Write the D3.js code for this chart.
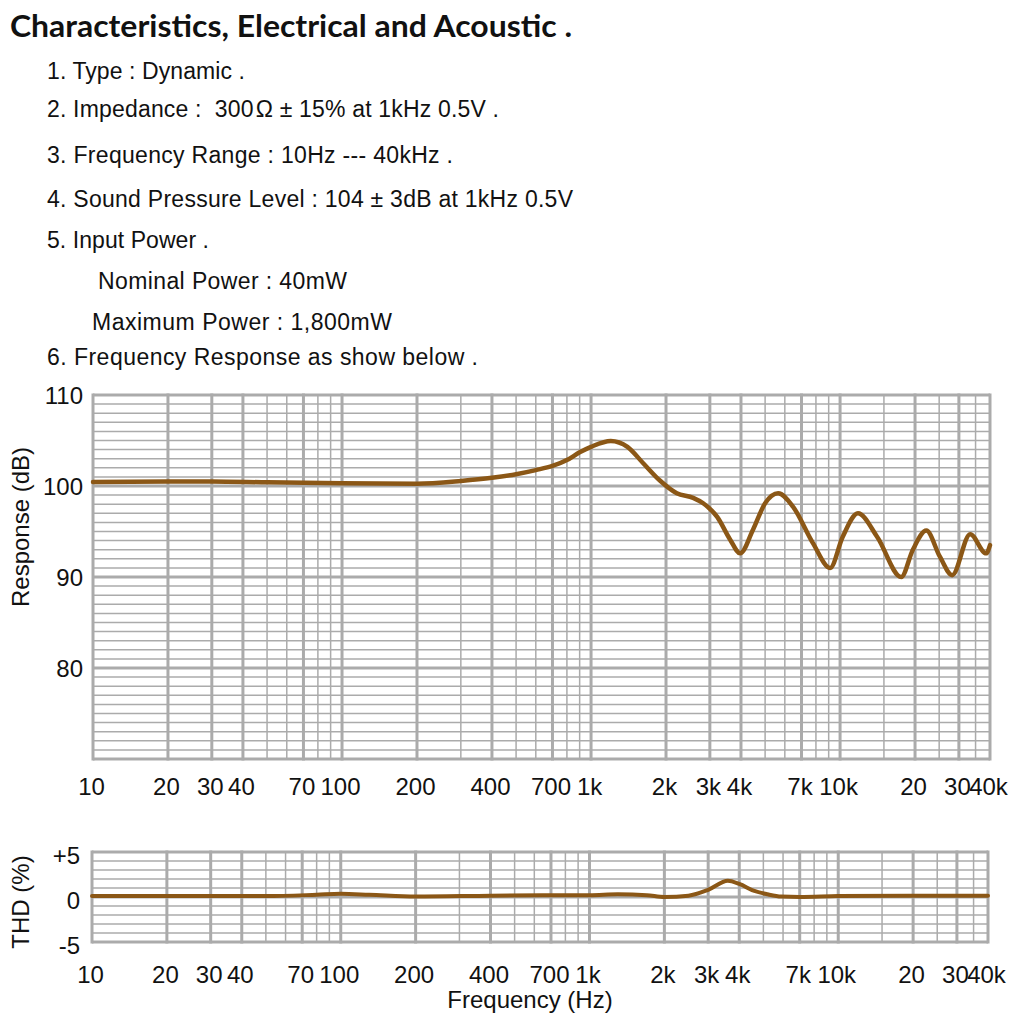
<!DOCTYPE html>
<html>
<head>
<meta charset="utf-8">
<script src="https://cdn.jsdelivr.net/npm/d3@7/dist/d3.min.js"></script>
<style>
  html, body { margin: 0; padding: 0; background: #fff; }
  svg { display: block; }
  text { font-family: "Liberation Sans", Arial, sans-serif; fill: #111; }
</style>
</head>
<body>
<svg id="chart" width="1020" height="1020"></svg>
<script>
// ---------- DATA ----------
const titleText = "Characteristics, Electrical and Acoustic .";
const specLines = [
  "1. Type : Dynamic .",
  "2. Impedance :  300\u200A\u03A9 ± 15% at 1kHz 0.5V .",
  "3. Frequency Range : 10Hz --- 40kHz .",
  "4. Sound Pressure Level : 104 ± 3dB at 1kHz 0.5V",
  "5. Input Power .",
  "Nominal Power : 40mW",
  "Maximum Power : 1,800mW",
  "6. Frequency Response as show below ."
];
const freqTicks = [10, 20, 30, 40, 70, 100, 200, 400, 700, 1000, 2000, 3000, 4000, 7000, 10000, 20000, 30000, 40000];
const freqTickLabels = ["10", "20", "30", "40", "70", "100", "200", "400", "700", "1k", "2k", "3k", "4k", "7k", "10k", "20", "30", "40k"];
const freqMinor = [50, 60, 80, 90, 300, 500, 600, 800, 900, 5000, 6000, 8000, 9000, 15000, 25000, 35000];
const respTicks = [80, 90, 100, 110];
const respTickLabels = ["80", "90", "100", "110"];
const thdTicks = [5, 0, -5];
const thdTickLabels = ["+5", "0", "-5"];

// Frequency response (Hz, dB)
const respFreq = [10, 20, 30, 50, 100, 200, 300, 400, 500, 600, 700, 800, 900, 1000, 1200, 1400, 1620, 1890, 2210, 2570, 2820, 3210, 3620, 3970, 4470, 5000, 5640, 6480, 7790, 9120, 10240, 11800, 14100, 17600, 19600, 22200, 25200, 28200, 33300, 38600, 40000];
const respDb   = [100.45, 100.5, 100.5, 100.4, 100.3, 100.25, 100.55, 100.9, 101.3, 101.75, 102.2, 102.85, 103.7, 104.3, 104.95, 104.3, 102.5, 100.6, 99.2, 98.7, 98.1, 96.6, 94.1, 92.6, 95.2, 98.1, 99.2, 97.7, 93.7, 91.0, 94.4, 97.0, 94.4, 90.0, 93.0, 95.1, 92.2, 90.2, 94.7, 92.6, 93.5];

// THD (Hz, %)
const thdFreq = [10, 50, 80, 100, 130, 200, 400, 700, 1000, 1300, 1700, 2000, 2500, 3000, 3600, 4000, 4600, 5200, 5900, 7000, 10000, 20000, 40000];
const thdPct  = [0.1, 0.1, 0.25, 0.35, 0.25, 0.05, 0.15, 0.2, 0.2, 0.3, 0.2, 0.0, 0.15, 0.8, 1.8, 1.45, 0.67, 0.3, 0.05, 0.0, 0.1, 0.15, 0.15];

// ---------- DRAW ----------
const svg = d3.select("#chart");
const curveColor = "#8b5716";
const gridColor = "#ababab";
const labelFont = "'Liberation Sans', Arial, sans-serif";

// Title and spec text
svg.append("text")
  .attr("x", 10).attr("y", 37)
  .style("font-family", "Lato, 'Open Sans', sans-serif")
  .style("font-weight", 700).style("font-size", "31px")
  .attr("textLength", 562).attr("lengthAdjust", "spacingAndGlyphs")
  .text(titleText);

const specX = [47, 47, 47, 47, 47, 98, 92, 47];
const specY = [79, 117, 163, 207, 248, 289, 330, 365];
const specW = [198, 452, 406, 526, 162, 249, 300, 431];
svg.append("g").selectAll("text").data(specLines).join("text")
  .attr("x", (d, i) => specX[i]).attr("y", (d, i) => specY[i])
  .attr("textLength", (d, i) => specW[i]).attr("lengthAdjust", "spacing")
  .style("font-size", "23px").style("white-space", "pre")
  .text(d => d);

function drawPanel(cfg) {
  const x = d3.scaleLog().domain([10, 40000]).range([cfg.x0, cfg.x1]);
  const y = d3.scaleLinear().domain(cfg.yDomain).range([cfg.y1, cfg.y0]);
  const g = svg.append("g");

  // horizontal grid
  const hVals = d3.range(cfg.yDomain[0], cfg.yDomain[1] + 0.001, 1);
  g.append("g").selectAll("line").data(hVals).join("line")
    .attr("x1", x(10)).attr("x2", x(40000))
    .attr("y1", d => y(d)).attr("y2", d => y(d))
    .attr("stroke", gridColor)
    .attr("stroke-width", d => cfg.majorY.includes(d) ? 3 : 1.5);

  // vertical grid
  g.append("g").selectAll("line").data(freqMinor).join("line")
    .attr("x1", d => x(d)).attr("x2", d => x(d))
    .attr("y1", y(cfg.yDomain[0])).attr("y2", y(cfg.yDomain[1]))
    .attr("stroke", gridColor).attr("stroke-width", 1.5);
  g.append("g").selectAll("line").data(freqTicks).join("line")
    .attr("x1", d => x(d)).attr("x2", d => x(d))
    .attr("y1", y(cfg.yDomain[0]) + 1.5).attr("y2", y(cfg.yDomain[1]) - 1.5)
    .attr("stroke", gridColor).attr("stroke-width", 3);

  // curve
  const line = d3.line().x(d => x(d[0])).y(d => y(d[1])).curve(d3.curveMonotoneX);
  g.append("path")
    .datum(cfg.fx.map((f, i) => [f, cfg.vals[i]]))
    .attr("d", line)
    .attr("fill", "none").attr("stroke", curveColor)
    .attr("stroke-width", cfg.lw).attr("stroke-linecap", "round").attr("stroke-linejoin", "round");

  // x axis labels
  const xa = d3.axisBottom(x).tickValues(freqTicks)
    .tickFormat((d, i) => freqTickLabels[i]).tickSize(0).tickPadding(0);
  const xg = g.append("g").attr("transform", `translate(-2,${cfg.xLabelY})`).call(xa);
  xg.select(".domain").remove();
  xg.selectAll("text").style("font-size", "24px").style("font-family", labelFont).attr("fill", "#111").attr("dy", 0);

  // y axis labels
  const ya = d3.axisLeft(y).tickValues(cfg.yTicks)
    .tickFormat((d, i) => cfg.yLabels[i]).tickSize(0).tickPadding(0);
  const yg = g.append("g").attr("transform", `translate(${cfg.yLabelX},${cfg.yLabelDy})`).call(ya);
  yg.select(".domain").remove();
  yg.selectAll("text").style("font-size", "24px").style("font-family", labelFont).attr("fill", "#111").attr("dy", "0.36em");

  // y title
  svg.append("text")
    .attr("transform", `translate(${cfg.titleX},${cfg.titleY}) rotate(-90)`)
    .attr("text-anchor", "middle")
    .style("font-size", "24px")
    .text(cfg.title);
  return x;
}

drawPanel({
  x0: 93, x1: 990, y0: 395, y1: 759,
  yDomain: [70, 110], majorY: [70, 80, 90, 100, 110],
  yTicks: respTicks, yLabels: respTickLabels,
  fx: respFreq, vals: respDb, lw: 4.5,
  xLabelY: 795, yLabelX: 83, yLabelDy: 0,
  title: "Response (dB)", titleX: 29, titleY: 527
});

drawPanel({
  x0: 92, x1: 988, y0: 852, y1: 942,
  yDomain: [-5, 5], majorY: [-5, 0, 5],
  yTicks: thdTicks, yLabels: thdTickLabels,
  fx: thdFreq, vals: thdPct, lw: 4,
  xLabelY: 983, yLabelX: 80, yLabelDy: 3,
  title: "THD (%)", titleX: 29, titleY: 902
});

svg.append("text")
  .attr("x", 530).attr("y", 1008)
  .attr("text-anchor", "middle")
  .style("font-size", "24px")
  .text("Frequency (Hz)");
</script>
</body>
</html>
